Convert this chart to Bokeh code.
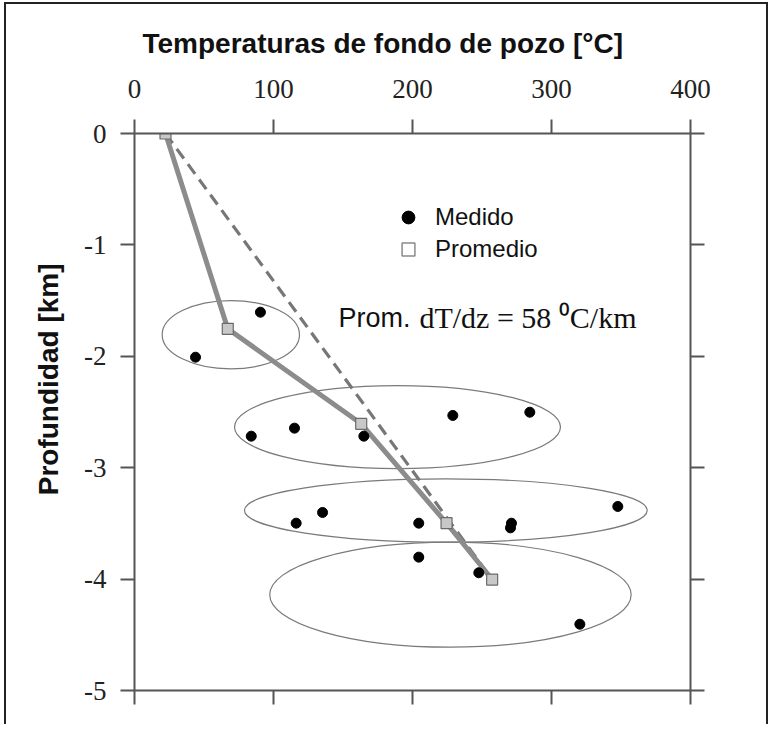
from bokeh.plotting import figure
from bokeh.models import LinearAxis, FixedTicker, Range1d, Title, Legend, LegendItem
from bokeh.core.properties import value
from bokeh.embed import file_html
from bokeh.resources import INLINE

# ---------------- data ----------------
temp_medido = [90.6, 43.9, 84.0, 115.1, 165.0, 229.0, 284.4, 116.3, 135.3,
               204.5, 271.2, 270.5, 347.7, 204.5, 247.7, 320.4]
prof_medido = [-1.604, -2.008, -2.717, -2.645, -2.717, -2.531, -2.502, -3.498,
               -3.402, -3.498, -3.498, -3.540, -3.348, -3.803, -3.943, -4.405]

temp_prom = [22.3, 67.1, 163.1, 224.5, 257.3]
prof_prom = [0.0, -1.753, -2.606, -3.498, -4.004]

# average gradient line (58 C/km)
grad_temp = [22.3, 257.3]
grad_prof = [0.0, -4.004]

ell_cx = [69.3, 189.2, 224.0, 227.3]
ell_cy = [-1.806, -2.635, -3.384, -4.140]
ell_w = [98.8, 234.5, 289.7, 260.0]
ell_h = [0.613, 0.745, 0.569, 0.943]

x_ticks = [0, 100, 200, 300, 400]
x_tick_labels = ["0", "100", "200", "300", "400"]
y_ticks = [0, -1, -2, -3, -4, -5]
y_tick_labels = ["0", "-1", "-2", "-3", "-4", "-5"]

x_title = "Temperaturas de fondo de pozo [°C]"
y_title = "Profundidad [km]"
legend_labels = ["Medido", "Promedio"]
note_x = [146.8, 205.0]
note_y = [-1.652, -1.652]
note_text = ["Prom.", "dT/dz = 58 \u2070C/km"]

AX = "#555555"

p = figure(frame_width=556, frame_height=557,
           x_range=Range1d(0, 400), y_range=Range1d(-5, 0),
           x_axis_location="above", y_axis_location="left",
           output_backend="svg", toolbar_location=None, title=None,
           min_border_left=128, min_border_top=129, min_border_right=76,
           min_border_bottom=34)
p.styles = {"border-top": "2px solid #222222", "border-left": "2px solid #222222",
            "border-right": "2px solid #222222", "margin-left": "4px",
            "margin-top": "2px"}
p.outline_line_color = None
p.xgrid.visible = False
p.ygrid.visible = False
p.background_fill_color = "white"
p.border_fill_color = "white"

# extra axes for ticks on all four sides
p.add_layout(LinearAxis(), "below")
p.add_layout(LinearAxis(), "right")

for ax in p.xaxis:
    ax.ticker = FixedTicker(ticks=x_ticks)
    ax.major_label_overrides = {t: s for t, s in zip(x_ticks, x_tick_labels)}
for ax in p.yaxis:
    ax.ticker = FixedTicker(ticks=y_ticks)
    ax.major_label_overrides = {t: s for t, s in zip(y_ticks, y_tick_labels)}

for ax in list(p.xaxis) + list(p.yaxis):
    ax.axis_line_color = AX
    ax.axis_line_width = 2
    ax.major_tick_line_color = AX
    ax.major_tick_line_width = 2
    ax.major_tick_out = 14
    ax.major_tick_in = 0
    ax.minor_tick_line_color = None
    ax.major_label_text_font = "Liberation Serif"
    ax.major_label_text_font_size = "27px"
    ax.major_label_text_color = "#222222"

p.above[0].major_label_standoff = 22
p.left[0].major_label_standoff = 14

for ax in (p.below[0], p.right[0]):
    ax.major_label_text_font_size = "0px"
    ax.major_label_text_color = None
    ax.major_label_standoff = 0

# titles acting as axis labels
tx = Title(text=x_title, align="left", offset=8, text_font="Liberation Sans",
           text_font_size="28px", text_font_style="bold", text_color="#111111",
           standoff=36)
p.add_layout(tx, "above")
ty = Title(text=y_title, align="right", offset=130, text_font="Liberation Sans",
           text_font_size="28px", text_font_style="bold", text_color="#111111",
           standoff=36)
p.add_layout(ty, "left")

# ellipses
p.ellipse(x=ell_cx, y=ell_cy, width=ell_w, height=ell_h, fill_color=None,
          line_color="#7a7a7a", line_width=1.2)

# gradient (dashed) and average (solid) lines
p.line(grad_temp, grad_prof, line_color="#777777", line_width=3.2, line_dash="12 7")
p.line(temp_prom, prof_prom, line_color="#8c8c8c", line_width=5)

# legend-only square (hidden under the real squares)
leg_sq = p.scatter(temp_prom, prof_prom, marker="square", size=1,
                   fill_color="white", line_color="#8a8a8a", line_width=1.5)

# measured points
dots = p.scatter(temp_medido, prof_medido, marker="circle", size=10,
                 fill_color="black", line_color="black")
# averages
p.scatter(temp_prom, prof_prom, marker="square", size=11,
          fill_color="#c8c8c8", line_color="#6a6a6a", line_width=1.2)

legend = Legend(items=[LegendItem(label=legend_labels[0], renderers=[dots]),
                       LegendItem(label=legend_labels[1], renderers=[leg_sq])],
                location=(254, 425), orientation="vertical",
                glyph_width=40, glyph_height=32, spacing=0, padding=0, margin=0,
                label_standoff=7, label_text_font="Liberation Sans",
                label_text_font_size="24px", label_text_color="#111111",
                border_line_color=None, background_fill_color=None)
p.add_layout(legend)

# annotation text
p.text(x=[note_x[0]], y=[note_y[0]], text=[note_text[0]],
       text_font=value("Liberation Sans"), text_font_size="27px",
       text_baseline="alphabetic", text_align="left", text_color="#111111")
p.text(x=[note_x[1]], y=[note_y[1]], text=[note_text[1]],
       text_font=value("Liberation Serif"), text_font_size="30px",
       text_baseline="alphabetic", text_align="left", text_color="#111111")

open("out.html", "w").write(file_html(p, INLINE))
